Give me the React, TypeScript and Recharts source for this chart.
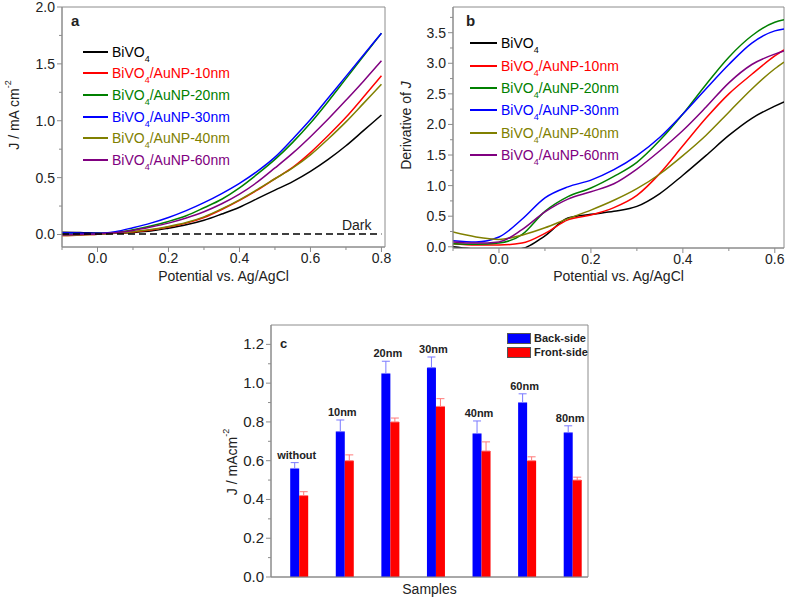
import {
  LineChart,
  Line,
  BarChart,
  Bar,
  XAxis,
  YAxis,
  ReferenceArea,
  Legend,
  Label,
  LabelList,
  ErrorBar,
} from "recharts";

const FONT = '"Liberation Sans", Arial, Helvetica, sans-serif';
const AXIS = "#8c8c8c";
const INK = "#222";

const seriesLabels = [
  "BiVO4",
  "BiVO4/AuNP-10nm",
  "BiVO4/AuNP-20nm",
  "BiVO4/AuNP-30nm",
  "BiVO4/AuNP-40nm",
  "BiVO4/AuNP-60nm",
];
const seriesKeys = ["bare", "n10", "n20", "n30", "n40", "n60"];
const seriesColors = ["#000000", "#ff0000", "#008000", "#0000ff", "#808000", "#800080"];

// (a) photocurrent vs potential, mA cm-2
const potentialA = [-0.1, -0.05, 0, 0.05, 0.1, 0.15, 0.2, 0.25, 0.3, 0.35, 0.4, 0.45, 0.5, 0.55, 0.6, 0.65, 0.7, 0.75, 0.8];
const jBare = [0.02, 0.018, 0.012, 0.01, 0.018, 0.03, 0.055, 0.085, 0.125, 0.18, 0.24, 0.315, 0.39, 0.465, 0.555, 0.66, 0.78, 0.915, 1.05];
const j10 = [-0.01, -0.005, 0.003, 0.01, 0.022, 0.04, 0.065, 0.1, 0.15, 0.22, 0.3, 0.39, 0.49, 0.59, 0.72, 0.87, 1.03, 1.21, 1.395];
const j20 = [0.005, 0.005, 0.008, 0.018, 0.042, 0.075, 0.115, 0.165, 0.235, 0.31, 0.41, 0.53, 0.66, 0.81, 0.98, 1.17, 1.37, 1.57, 1.77];
const j30 = [0.015, 0.012, 0.01, 0.025, 0.06, 0.1, 0.15, 0.21, 0.28, 0.36, 0.45, 0.555, 0.68, 0.84, 1.01, 1.2, 1.39, 1.58, 1.77];
const j40 = [-0.01, -0.005, 0.003, 0.01, 0.024, 0.043, 0.07, 0.105, 0.155, 0.225, 0.305, 0.395, 0.49, 0.585, 0.7, 0.84, 0.99, 1.155, 1.32];
const j60 = [-0.005, 0, 0.005, 0.015, 0.035, 0.065, 0.1, 0.145, 0.2, 0.27, 0.355, 0.46, 0.585, 0.715, 0.86, 1.015, 1.18, 1.35, 1.527];
const jDark = [0.005, 0.005, 0.005, 0.005, 0.005, 0.005, 0.005, 0.005, 0.005, 0.005, 0.005, 0.005, 0.005, 0.005, 0.005, 0.005, 0.005, 0.005, 0.005];
const xTicksA = [-0.1, 0, 0.1, 0.2, 0.3, 0.4, 0.5, 0.6, 0.7, 0.8];
const yTicksA = [0, 0.25, 0.5, 0.75, 1, 1.25, 1.5, 1.75, 2];

// (b) derivative of J
const potentialB = [-0.1, -0.05, 0, 0.05, 0.1, 0.15, 0.2, 0.25, 0.3, 0.35, 0.4, 0.45, 0.5, 0.55, 0.6, 0.62];
const dBare = [0.0, -0.04, -0.06, -0.03, 0.18, 0.47, 0.53, 0.58, 0.66, 0.87, 1.17, 1.49, 1.82, 2.1, 2.3, 2.37];
const d10 = [0.05, 0.03, 0.03, 0.06, 0.22, 0.44, 0.52, 0.64, 0.84, 1.2, 1.65, 2.1, 2.5, 2.82, 3.12, 3.22];
const d20 = [0.05, 0.04, 0.06, 0.2, 0.58, 0.82, 0.96, 1.15, 1.38, 1.74, 2.17, 2.65, 3.1, 3.45, 3.67, 3.71];
const d30 = [0.1, 0.08, 0.16, 0.45, 0.8, 0.98, 1.09, 1.26, 1.49, 1.79, 2.17, 2.58, 2.98, 3.33, 3.53, 3.56];
const d40 = [0.24, 0.16, 0.12, 0.19, 0.31, 0.46, 0.6, 0.76, 0.95, 1.19, 1.49, 1.82, 2.2, 2.58, 2.91, 3.02];
const d60 = [0.08, 0.06, 0.08, 0.28, 0.57, 0.78, 0.9, 1.03, 1.27, 1.57, 1.9, 2.28, 2.68, 2.98, 3.15, 3.2];
const xTicksB = [-0.1, 0, 0.1, 0.2, 0.3, 0.4, 0.5, 0.6];
const yTicksB = [0, 0.25, 0.5, 0.75, 1, 1.25, 1.5, 1.75, 2, 2.25, 2.5, 2.75, 3, 3.25, 3.5, 3.75];

// (c) photocurrent by Au size
const samples = ["without", "10nm", "20nm", "30nm", "40nm", "60nm", "80nm"];
const backSide = [0.56, 0.75, 1.05, 1.08, 0.74, 0.9, 0.745];
const backSideErr = [0.03, 0.06, 0.063, 0.055, 0.065, 0.045, 0.035];
const frontSide = [0.42, 0.6, 0.8, 0.88, 0.65, 0.6, 0.5];
const frontSideErr = [0.02, 0.03, 0.02, 0.04, 0.047, 0.02, 0.015];
const yTicksC = [0, 0.1, 0.2, 0.3, 0.4, 0.5, 0.6, 0.7, 0.8, 0.9, 1, 1.1, 1.2];

const dataA = potentialA.map((v, i) => ({
  v,
  bare: jBare[i],
  n10: j10[i],
  n20: j20[i],
  n30: j30[i],
  n40: j40[i],
  n60: j60[i],
  dark: jDark[i],
}));

const dataB = potentialB.map((v, i) => ({
  v,
  bare: dBare[i],
  n10: d10[i],
  n20: d20[i],
  n30: d30[i],
  n40: d40[i],
  n60: d60[i],
}));

const dataC = samples.map((name, i) => ({
  pos: i + 1,
  name,
  back: backSide[i],
  front: frontSide[i],
  backErr: [0, backSideErr[i]],
  frontErr: [0, frontSideErr[i]],
}));

const isMultiple = (v: number, step: number) =>
  Math.abs(v / step - Math.round(v / step)) < 1e-6;

function bottomTick(majorStep: number) {
  return (props: any) => {
    const { x, y, payload } = props;
    const major = isMultiple(payload.value, majorStep);
    return (
      <g>
        <line x1={x} x2={x} y1={y} y2={y + (major ? 5 : 3)} stroke={AXIS} />
        {major && (
          <text x={x} y={y + 16} textAnchor="middle" fontSize={14} fill={INK} fontFamily={FONT}>
            {payload.value.toFixed(1)}
          </text>
        )}
      </g>
    );
  };
}

function leftTick(majorStep: number, size = 14) {
  return (props: any) => {
    const { x, y, payload } = props;
    const major = isMultiple(payload.value, majorStep);
    return (
      <g>
        <line x1={x - (major ? 5 : 3)} x2={x} y1={y} y2={y} stroke={AXIS} />
        {major && (
          <text x={x - 7} y={y + 5} textAnchor="end" fontSize={size} fill={INK} fontFamily={FONT}>
            {payload.value.toFixed(1)}
          </text>
        )}
      </g>
    );
  };
}

function xTitle(text: string, dy: number) {
  return (p: any) => {
    const vb = p.viewBox;
    return (
      <text
        x={vb.x + vb.width / 2}
        y={vb.y + dy}
        textAnchor="middle"
        fontSize={14}
        fill={INK}
        fontFamily={FONT}
      >
        {text}
      </text>
    );
  };
}

function yTitle(cx: number, shift: number, children: any) {
  return (p: any) => {
    const vb = p.viewBox;
    const x = vb.x + cx;
    const y = vb.y + vb.height / 2 + shift;
    return (
      <text
        x={x}
        y={y}
        transform={`rotate(-90, ${x}, ${y})`}
        textAnchor="middle"
        fontSize={14}
        fill={INK}
        fontFamily={FONT}
        dominantBaseline="central"
      >
        {children}
      </text>
    );
  };
}

function CurveLegend({ payload, rowH, lineW }: any) {
  const rows = (payload || []).filter((p: any) => p.dataKey !== "dark");
  return (
    <div style={{ fontFamily: FONT, fontSize: 14 }}>
      {rows.map((p: any) => (
        <div
          key={p.value}
          style={{ display: "flex", alignItems: "center", height: rowH, color: p.color, whiteSpace: "nowrap" }}
        >
          <span
            style={{ display: "inline-block", width: lineW, height: 2, background: p.color, marginRight: 4 }}
          />
          <span>
            BiVO
            <span style={{ fontSize: 9, position: "relative", top: 5 }}>4</span>
            {String(p.value).slice(5)}
          </span>
        </div>
      ))}
    </div>
  );
}

function BarLegend({ payload }: any) {
  return (
    <div style={{ fontFamily: FONT, fontSize: 11, fontWeight: "bold", color: INK }}>
      {(payload || []).map((p: any) => (
        <div key={p.value} style={{ display: "flex", alignItems: "center", height: 14 }}>
          <span
            style={{ display: "inline-block", width: 22, height: 9, background: p.color, border: "0.5px solid #555", marginRight: 3 }}
          />
          <span>{p.value}</span>
        </div>
      ))}
    </div>
  );
}

function DarkTag(p: any) {
  if (p.index !== jDark.length - 1) return null;
  return (
    <text x={p.x - 10} y={p.y - 4} textAnchor="end" fontSize={14} fill={INK} fontFamily={FONT}>
      Dark
    </text>
  );
}

function SampleTag(p: any) {
  const { x, y, width, height, index } = p;
  const errPx = (height * backSideErr[index]) / backSide[index];
  return (
    <text
      x={x + width / 2 + 2}
      y={y - errPx - 4}
      textAnchor="middle"
      fontSize={11}
      fontWeight="bold"
      fill={INK}
      fontFamily={FONT}
    >
      {samples[index]}
    </text>
  );
}

const letterStyle = (left: number, top: number, size: number): any => ({
  position: "absolute",
  left,
  top,
  fontFamily: FONT,
  fontWeight: "bold",
  fontSize: size,
  color: INK,
  lineHeight: 1,
});

export default function App() {
  return (
    <div style={{ position: "absolute", left: 0, top: 0, width: 787, height: 600, background: "#fff" }}>
      <div style={{ position: "absolute", left: 0, top: 0 }}>
        <LineChart width={395} height={300} data={dataA} margin={{ top: 7, right: 10, bottom: 0, left: 0 }}>
          <XAxis
            dataKey="v"
            type="number"
            domain={[-0.1, 0.81]}
            ticks={xTicksA}
            interval={0}
            tick={bottomTick(0.2)}
            tickLine={false}
            tickSize={0}
            tickMargin={0}
            height={53}
            stroke={AXIS}
            allowDataOverflow
          >
            <Label content={xTitle("Potential vs. Ag/AgCl", 34)} />
          </XAxis>
          <YAxis
            type="number"
            domain={[-0.11, 2]}
            ticks={yTicksA}
            interval={0}
            tick={leftTick(0.5)}
            tickLine={false}
            tickSize={0}
            tickMargin={0}
            width={62}
            stroke={AXIS}
            allowDataOverflow
          >
            <Label
              content={yTitle(14, -12, [
                <tspan key="a">J / mA cm</tspan>,
                <tspan key="b" dy={-6} fontSize={9}>-2</tspan>,
              ])}
            />
          </YAxis>
          <ReferenceArea y1={-0.11} y2={2} fill="none" stroke={AXIS} ifOverflow="extendDomain" />
          {seriesKeys.map((k, i) => (
            <Line
              key={k}
              dataKey={k}
              name={seriesLabels[i]}
              type="monotone"
              stroke={seriesColors[i]}
              strokeWidth={1.5}
              dot={false}
              isAnimationActive={false}
            />
          ))}
          <Line
            dataKey="dark"
            type="linear"
            stroke="#000"
            strokeWidth={1.5}
            strokeDasharray="7 4"
            dot={false}
            legendType="none"
            label={DarkTag}
            isAnimationActive={false}
          />
          <Legend
            layout="vertical"
            align="center"
            verticalAlign="middle"
            content={(p: any) => <CurveLegend payload={p.payload} rowH={21.6} lineW={25} />}
            wrapperStyle={{ left: 83, top: 41, width: "auto", height: "auto" }}
          />
        </LineChart>
        <div style={letterStyle(71, 13, 15)}>a</div>
      </div>

      <div style={{ position: "absolute", left: 390, top: 0 }}>
        <LineChart width={397} height={300} data={dataB} margin={{ top: 7, right: 3, bottom: 0, left: 0 }}>
          <XAxis
            dataKey="v"
            type="number"
            domain={[-0.1, 0.62]}
            ticks={xTicksB}
            interval={0}
            tick={bottomTick(0.2)}
            tickLine={false}
            tickSize={0}
            tickMargin={0}
            height={52}
            stroke={AXIS}
            allowDataOverflow
          >
            <Label content={xTitle("Potential vs. Ag/AgCl", 33)} />
          </XAxis>
          <YAxis
            type="number"
            domain={[-0.02, 3.92]}
            ticks={yTicksB}
            interval={0}
            tick={leftTick(0.5)}
            tickLine={false}
            tickSize={0}
            tickMargin={0}
            width={63}
            stroke={AXIS}
            allowDataOverflow
          >
            <Label
              content={yTitle(16, -2, [
                <tspan key="a">Derivative of </tspan>,
                <tspan key="b" fontStyle="italic">J</tspan>,
              ])}
            />
          </YAxis>
          <ReferenceArea y1={-0.02} y2={3.92} fill="none" stroke={AXIS} ifOverflow="extendDomain" />
          {seriesKeys.map((k, i) => (
            <Line
              key={k}
              dataKey={k}
              name={seriesLabels[i]}
              type="monotone"
              stroke={seriesColors[i]}
              strokeWidth={1.5}
              dot={false}
              isAnimationActive={false}
            />
          ))}
          <Legend
            layout="vertical"
            align="center"
            verticalAlign="middle"
            content={(p: any) => <CurveLegend payload={p.payload} rowH={22.4} lineW={27} />}
            wrapperStyle={{ left: 80, top: 32, width: "auto", height: "auto" }}
          />
        </LineChart>
        <div style={letterStyle(76, 13, 15)}>b</div>
      </div>

      <div style={{ position: "absolute", left: 190, top: 300 }}>
        <BarChart
          width={400}
          height={300}
          data={dataC}
          margin={{ top: 25, right: 2, bottom: 0, left: 0 }}
          barGap={0}
          barSize={9}
        >
          <XAxis
            dataKey="pos"
            type="number"
            domain={[0.386, 7.34]}
            tick={false}
            tickLine={false}
            height={23}
            stroke={AXIS}
            allowDataOverflow
          >
            <Label content={xTitle("Samples", 17)} />
          </XAxis>
          <YAxis
            type="number"
            domain={[0, 1.3]}
            ticks={yTicksC}
            interval={0}
            tick={leftTick(0.2, 15)}
            tickLine={false}
            tickSize={0}
            tickMargin={0}
            width={81}
            stroke={AXIS}
            allowDataOverflow
          >
            <Label
              content={yTitle(42, 11, [
                <tspan key="a">J / mAcm</tspan>,
                <tspan key="b" dy={-6} fontSize={9}>-2</tspan>,
              ])}
            />
          </YAxis>
          <ReferenceArea y1={0} y2={1.3} fill="none" stroke={AXIS} />
          <Bar dataKey="back" name="Back-side" fill="#0000ff" isAnimationActive={false}>
            <ErrorBar dataKey="backErr" width={4} stroke="#7a7aff" strokeWidth={1} direction="y" />
            <LabelList dataKey="back" content={SampleTag} />
          </Bar>
          <Bar dataKey="front" name="Front-side" fill="#ff0000" isAnimationActive={false}>
            <ErrorBar dataKey="frontErr" width={4} stroke="#ff7a7a" strokeWidth={1} direction="y" />
          </Bar>
          <Legend
            layout="vertical"
            align="center"
            verticalAlign="middle"
            content={(p: any) => <BarLegend payload={p.payload} />}
            wrapperStyle={{ left: 317, top: 31, width: "auto", height: "auto" }}
          />
        </BarChart>
        <div style={letterStyle(90, 37, 13)}>c</div>
      </div>
    </div>
  );
}
